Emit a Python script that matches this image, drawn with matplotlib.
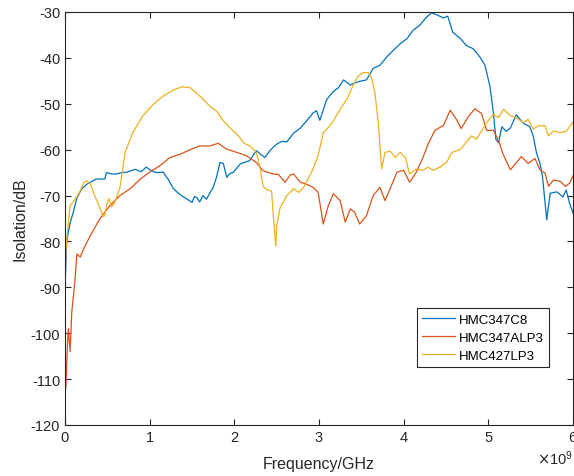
import numpy as np
import matplotlib
matplotlib.use("Agg")
import matplotlib.pyplot as plt
from matplotlib.ticker import ScalarFormatter

plt.rcParams["font.family"] = ["Liberation Sans", "DejaVu Sans"]
plt.rcParams["axes.unicode_minus"] = False

# HMC347C8
f_c8 = [0.0, 0.02, 0.06, 0.10, 0.14, 0.20, 0.26, 0.37, 0.47, 0.49, 0.55, 0.61, 0.67, 0.73,
        0.83, 0.90, 0.96, 1.02, 1.08, 1.16, 1.22, 1.28, 1.34, 1.40, 1.46, 1.50, 1.53, 1.56,
        1.59, 1.63, 1.67, 1.71, 1.75, 1.79, 1.83, 1.87, 1.91, 1.95, 1.99, 2.07, 2.18, 2.26,
        2.31, 2.36, 2.43, 2.50, 2.56, 2.62, 2.70, 2.78, 2.85, 2.93, 2.97, 3.01, 3.09, 3.17,
        3.23, 3.29, 3.37, 3.42, 3.48, 3.56, 3.64, 3.72, 3.80, 3.88, 3.96, 4.04, 4.11, 4.19,
        4.27, 4.33, 4.39, 4.47, 4.52, 4.58, 4.67, 4.74, 4.82, 4.90, 4.96, 5.02, 5.06, 5.09,
        5.12, 5.16, 5.21, 5.26, 5.33, 5.41, 5.49, 5.53, 5.57, 5.61, 5.64, 5.69, 5.73, 5.81,
        5.88, 5.92, 5.96, 6.0]
iso_c8 = [-90, -80, -76, -73.5, -70.5, -68.5, -67.5, -66.4, -66.4, -65.0, -65.3, -65.3, -65.0, -64.9,
          -64.3, -64.8, -63.8, -64.6, -65.0, -64.9, -66.5, -68.5, -69.5, -70.3, -71.0, -71.5, -70.2, -70.5,
          -71.4, -70.0, -70.8, -69.5, -68.2, -66.0, -62.8, -63.0, -66.0, -65.2, -64.9, -63.1, -62.4, -60.2,
          -61.0, -61.7, -60.0, -58.8, -58.2, -58.3, -56.4, -55.3, -53.8, -52.0, -51.5, -53.6, -49.1, -47.3,
          -46.5, -44.8, -45.9, -45.5, -45.1, -44.8, -42.3, -41.6, -39.8, -38.3, -36.9, -35.8, -34.0, -32.9,
          -31.1, -30.2, -30.6, -31.3, -30.9, -34.4, -35.8, -37.3, -38.0, -39.8, -41.6, -46.3, -52.0, -57.8,
          -58.5, -55.0, -56.0, -55.3, -52.4, -54.2, -55.0, -57.0, -60.8, -63.0, -65.9, -75.3, -69.5, -69.2,
          -70.3, -68.8, -71.7, -73.8]

# HMC347ALP3
f_alp3 = [0.0, 0.01, 0.03, 0.04, 0.06, 0.08, 0.10, 0.12, 0.14, 0.18, 0.22, 0.30, 0.41, 0.53, 0.65,
          0.77, 0.89, 1.0, 1.12, 1.24, 1.36, 1.48, 1.59, 1.71, 1.81, 1.91, 2.03, 2.14, 2.26, 2.34,
          2.46, 2.52, 2.60, 2.66, 2.70, 2.78, 2.85, 2.93, 2.99, 3.05, 3.11, 3.17, 3.25, 3.31, 3.37,
          3.42, 3.48, 3.56, 3.64, 3.72, 3.78, 3.84, 3.92, 4.0, 4.07, 4.15, 4.23, 4.29, 4.37, 4.47,
          4.55, 4.63, 4.68, 4.76, 4.84, 4.92, 4.98, 5.06, 5.12, 5.17, 5.26, 5.31, 5.39, 5.47, 5.55,
          5.61, 5.67, 5.71, 5.77, 5.85, 5.91, 5.96, 6.0]
iso_alp3 = [-100, -112, -102, -99, -104, -95.4, -91.8, -88, -82.7, -83.4, -81.6, -78.7, -75.1, -72.2, -70,
            -68.5, -66.4, -64.9, -63.5, -61.7, -61, -60, -59.2, -59.2, -58.6, -59.9, -60.6, -61.3, -62.8, -64.6,
            -65.3, -65.4, -67.1, -65.5, -65.3, -67.1, -67.5, -68.2, -69.3, -76.2, -72.2, -69.6, -71.1, -75.8, -72.9,
            -73.6, -76.2, -74.4, -70, -68.2, -71.1, -68.5, -64.9, -64.5, -67.1, -64.9, -61.6, -58.7, -55.8, -54.7,
            -51.4, -53.6, -55.4, -52.9, -51.1, -52.1, -55.8, -55.8, -58, -60.8, -64.4, -63.3, -61.5, -63, -61.9,
            -64.4, -65.1, -68, -66.6, -66.9, -68, -67.3, -65.7]

# HMC427LP3
f_lp3 = [0.0, 0.02, 0.06, 0.12, 0.18, 0.22, 0.26, 0.30, 0.35, 0.41, 0.45, 0.47, 0.49, 0.52, 0.55,
         0.59, 0.65, 0.71, 0.80, 0.92, 1.04, 1.16, 1.28, 1.38, 1.48, 1.59, 1.71, 1.79, 1.87, 1.95,
         2.03, 2.11, 2.18, 2.26, 2.30, 2.34, 2.38, 2.44, 2.46, 2.49, 2.50, 2.54, 2.62, 2.70, 2.76,
         2.82, 2.87, 2.93, 2.99, 3.05, 3.11, 3.17, 3.25, 3.33, 3.40, 3.46, 3.52, 3.58, 3.62, 3.66,
         3.70, 3.74, 3.78, 3.84, 3.90, 3.96, 4.02, 4.07, 4.15, 4.23, 4.29, 4.35, 4.43, 4.51, 4.57,
         4.67, 4.74, 4.80, 4.86, 4.92, 4.98, 5.06, 5.12, 5.18, 5.26, 5.33, 5.41, 5.47, 5.53, 5.59,
         5.67, 5.71, 5.77, 5.85, 5.92, 6.0]
iso_lp3 = [-86, -79.5, -72.2, -70.8, -69, -67.2, -66.8, -67.5, -70, -72.6, -74.6, -74.4, -72, -70.7, -72.5,
           -71.4, -68.2, -60.6, -56.3, -52.6, -50.2, -48.3, -47, -46.3, -46.5, -48.3, -50.5, -51.6, -53.7, -55.3,
           -56.6, -58.5, -59.2, -60.6, -63.6, -68, -68.7, -69, -74.3, -81, -76.6, -72.7, -70, -68.5, -69.3,
           -68.2, -66.4, -64.2, -61.3, -56.3, -55.2, -53.7, -51.2, -49, -46.1, -44, -43.2, -43.2, -44.3, -47.5,
           -54.1, -64.2, -60.6, -60.3, -61.7, -60.6, -61.7, -65.3, -64.2, -64.5, -63.8, -64.5, -63.8, -62.7, -60.6,
           -59.9, -58.4, -57, -57.7, -55.9, -54.1, -52.3, -53, -51.2, -52.6, -53, -54.1, -53.4, -55.5, -54.8,
           -54.8, -57, -55.9, -56.3, -56, -54]

labels = ["HMC347C8", "HMC347ALP3", "HMC427LP3"]
colors = ["#0072BD", "#D95319", "#EDB120"]

fig = plt.figure(figsize=(5.74, 4.77), dpi=100)
ax = fig.add_axes([65 / 574, 51 / 477, 508 / 574, 413 / 477])

series = [(f_c8, iso_c8), (f_alp3, iso_alp3), (f_lp3, iso_lp3)]
for (f, v), lab, c in zip(series, labels, colors):
    ax.plot(np.array(f) * 1e9, v, color=c, linewidth=0.9, label=lab)

ax.set_xlim(0, 6e9)
ax.set_ylim(-120, -30)
ax.set_xticks(np.arange(0, 7) * 1e9)
ax.set_yticks(np.arange(-120, -29, 10))

fmt = ScalarFormatter(useMathText=True)
fmt.set_powerlimits((0, 0))
ax.xaxis.set_major_formatter(fmt)

dark = "#262626"
ax.tick_params(direction="in", top=True, right=True, length=4, width=0.8,
               colors=dark, labelsize=10.5)
for s in ax.spines.values():
    s.set_color(dark)
    s.set_linewidth(0.8)
ax.xaxis.get_offset_text().set_color(dark)
ax.xaxis.get_offset_text().set_fontsize(10.5)

ax.set_xlabel("Frequency/GHz", fontsize=11.5, color=dark, labelpad=9)
ax.set_ylabel("Isolation/dB", fontsize=11.5, color=dark, labelpad=2)

leg = ax.legend(loc="upper left", bbox_to_anchor=(0.693, 0.283), fontsize=9.5,
                fancybox=False, framealpha=1, edgecolor=dark, handlelength=2.5,
                borderaxespad=0, labelspacing=0.45, handletextpad=0.3, borderpad=0.4)
leg.get_frame().set_linewidth(0.8)

fig.savefig("out.png", dpi=100)
